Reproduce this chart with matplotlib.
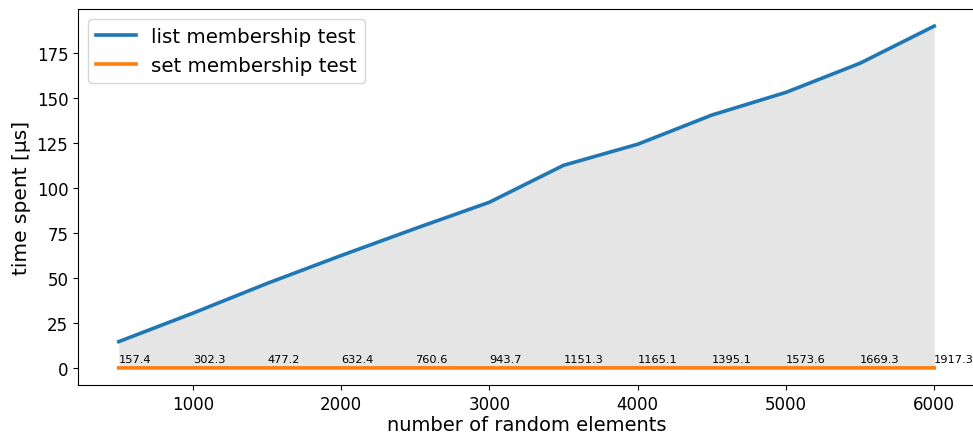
import matplotlib
matplotlib.use("Agg")
import matplotlib.pyplot as plt

# number of random elements
n_elements = [500, 1000, 1500, 2000, 2500, 3000, 3500, 4000, 4500, 5000, 5500, 6000]
# time spent [us]
list_times = [14.7, 30.5, 47.0, 62.5, 77.5, 92.1, 112.6, 124.3, 140.5, 153.1, 169.3, 189.9]
set_times = [0.093, 0.101, 0.098, 0.099, 0.102, 0.098, 0.098, 0.107, 0.101, 0.097, 0.101, 0.099]
# list / set ratio labels
ratios = ["157.4", "302.3", "477.2", "632.4", "760.6", "943.7",
          "1151.3", "1165.1", "1395.1", "1573.6", "1669.3", "1917.3"]

fig = plt.figure(figsize=(9.73, 4.35), dpi=100)
ax = fig.add_axes([78 / 973, 1 - 386 / 435, 897 / 973, 376 / 435])

ax.plot(n_elements, list_times, color="tab:blue", lw=2.6, label="list membership test")
ax.plot(n_elements, set_times, color="tab:orange", lw=2.6, label="set membership test")
ax.fill_between(n_elements, set_times, list_times, color="grey", alpha=0.2, lw=0)

for x, r in zip(n_elements, ratios):
    ax.text(x, 3.2, r, fontsize=8.2)

ax.set_xlabel("number of random elements", fontsize=14, labelpad=2)
ax.set_ylabel("time spent [µs]", fontsize=14.5)
ax.tick_params(labelsize=12)
ax.legend(loc="upper left", fontsize=14.3)

fig.savefig("out.png", dpi=100)
